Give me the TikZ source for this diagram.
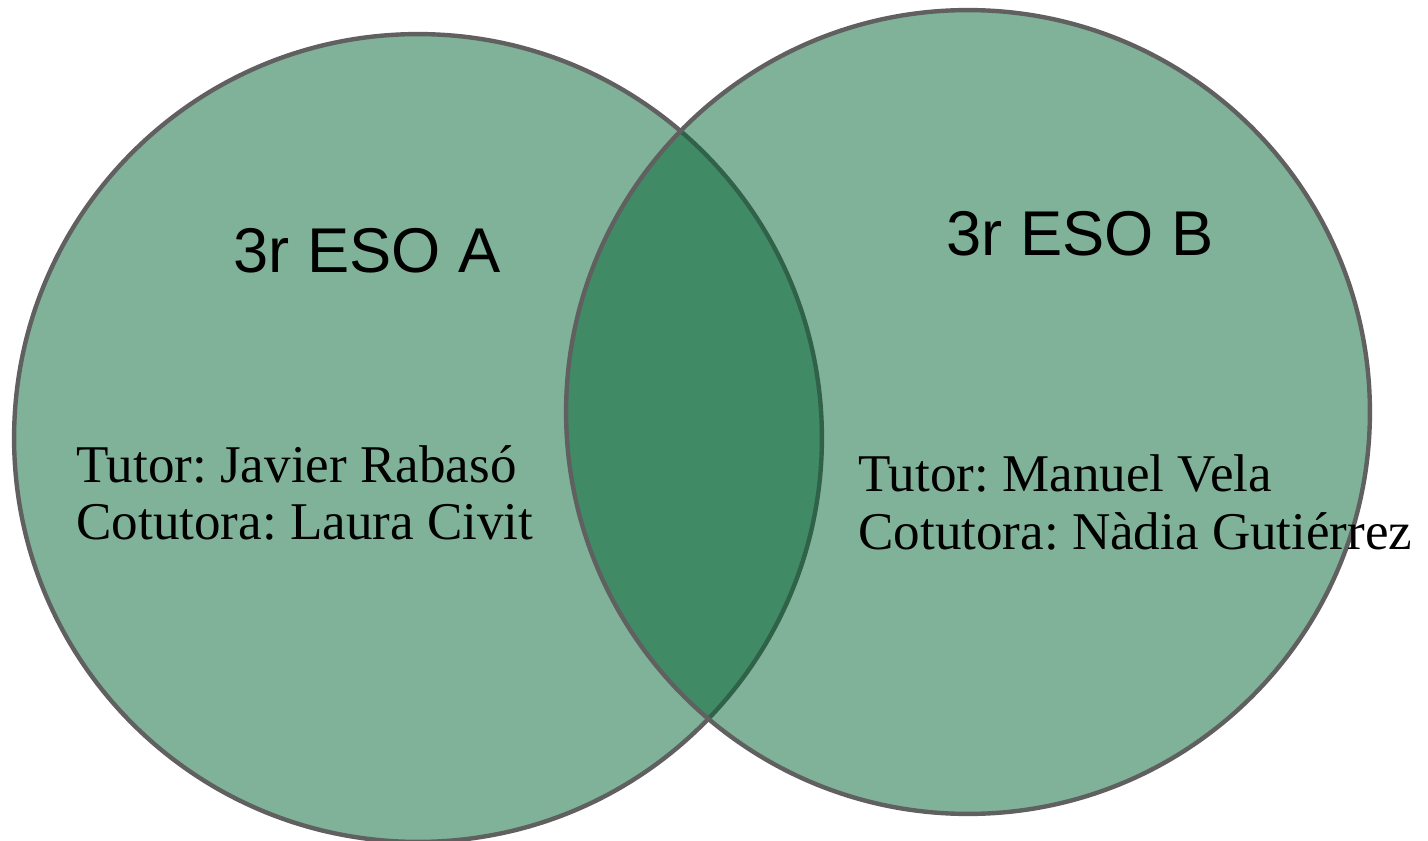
\documentclass[tikz,border=0pt]{standalone}
\usepackage{fontspec}
\setmainfont{Liberation Serif}
\setsansfont{Liberation Sans}
\usepackage{xcolor}
\usepackage{tikz}
\frenchspacing
\definecolor {vennfill} {RGB}{002, 100, 052}
\definecolor {venngray} {RGB}{096, 096, 096}

\tikzset{
	groupset/.style={circle, draw=venngray, line width=2.5pt, fill=vennfill, fill opacity=0.5, inner sep=0pt, minimum size=#1},
	grouptitle/.style={anchor=base west, inner sep=0pt, font=\sffamily\fontsize{36}{40}\selectfont},
	tutorline/.style={anchor=base west, inner sep=0pt, font=\fontsize{30.2}{34}\selectfont}
}

\begin{document}
\begin{tikzpicture}[x=0.02cm, y=-0.02cm]

	\useasboundingbox (0, 0) rectangle (1428, 841);
	\clip (0, 0) rectangle (1428, 841);

	% Draw the two sets
	\node[groupset=16.16cm] (setA) at (418, 438) {};
	\node[groupset=16.08cm] (setB) at (968, 412) {};

	% Draw set titles
	\node[grouptitle] (titleA) at (233, 273) {3r ESO A};
	\node[grouptitle] (titleB) at (946, 256) {3r ESO B};

	% Draw tutors
	% for group A
	\node[tutorline] (tutorA) at (76, 482) {Tutor: Javier Rabasó};
	\node[tutorline] (cotutorA) at (76, 540) {Cotutora: Laura Civit};

	% for group B
	\node[tutorline] (tutorB) at (858, 492) {Tutor: Manuel Vela};
	\node[tutorline] (cotutorB) at (858, 549) {Cotutora: Nàdia Gutiérrez};

\end{tikzpicture}
\end{document}
